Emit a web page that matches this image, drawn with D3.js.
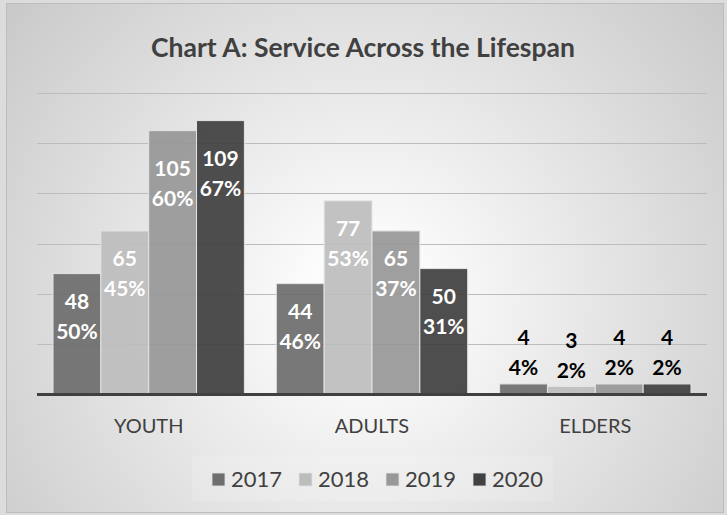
<!DOCTYPE html>
<html>
<head>
<meta charset="utf-8">
<script src="https://cdn.jsdelivr.net/npm/d3@7"></script>
<style>
  html, body { margin: 0; padding: 0; background: #dcdcdc; }
  svg { display: block; }
  text { font-family: Lato, "Open Sans", sans-serif; }
</style>
</head>
<body>
<div id="chart"></div>
<script>
// chart data
const categories = ['YOUTH', 'ADULTS', 'ELDERS'];
const years = ['2017', '2018', '2019', '2020'];
const counts = {
  '2017': [48, 44, 4],
  '2018': [65, 77, 3],
  '2019': [105, 65, 4],
  '2020': [109, 50, 4]
};
const percents = {
  '2017': ['50%', '46%', '4%'],
  '2018': ['45%', '53%', '2%'],
  '2019': ['60%', '37%', '2%'],
  '2020': ['67%', '31%', '2%']
};
const yTicks = [0, 20, 40, 60, 80, 100, 120];

const colors = { '2017': '#6e6e6e', '2018': '#bdbdbd', '2019': '#989898', '2020': '#414141' };

const width = 727, height = 515;
const svg = d3.select('#chart').append('svg')
  .attr('width', width)
  .attr('height', height);

// radial grey background
const defs = svg.append('defs');
const grad = defs.append('radialGradient')
  .attr('id', 'bg')
  .attr('gradientUnits', 'userSpaceOnUse')
  .attr('cx', 365).attr('cy', 300).attr('r', 520);
grad.append('stop').attr('offset', '0').attr('stop-color', '#ffffff');
grad.append('stop').attr('offset', '0.12').attr('stop-color', '#fbfbfb');
grad.append('stop').attr('offset', '1').attr('stop-color', '#c2c2c2');

svg.append('rect')
  .attr('x', 6.5).attr('y', 3.5)
  .attr('width', width - 10).attr('height', height - 6)
  .attr('fill', 'url(#bg)')
  .attr('stroke', '#bdbdbd');

// title
svg.append('text')
  .attr('x', 363).attr('y', 57)
  .attr('text-anchor', 'middle')
  .attr('font-size', 26.5)
  .attr('font-weight', 'bold')
  .attr('fill', '#404040')
  .text('Chart A: Service Across the Lifespan');

const plot = { left: 37, right: 707, top: 93, bottom: 394 };

const x0 = d3.scaleBand()
  .domain(categories)
  .range([plot.left, plot.right])
  .paddingInner(0.143)
  .paddingOuter(0.0717);

const x1 = d3.scaleBand()
  .domain(years)
  .range([0, x0.bandwidth()]);

const y = d3.scaleLinear()
  .domain([0, 120])
  .range([plot.bottom, plot.top]);

// gridlines
svg.append('g')
  .selectAll('line')
  .data(yTicks.filter(d => d > 0))
  .join('line')
  .attr('x1', plot.left).attr('x2', plot.right)
  .attr('y1', d => Math.round(y(d)) + 0.5)
  .attr('y2', d => Math.round(y(d)) + 0.5)
  .attr('stroke', '#bcbcbc')
  .attr('stroke-width', 1);

// bars
const rows = [];
categories.forEach((c, i) => {
  years.forEach(yr => {
    rows.push({ cat: c, year: yr, value: counts[yr][i], pct: percents[yr][i] });
  });
});

const bars = svg.append('g');
bars.selectAll('rect')
  .data(rows)
  .join('rect')
  .attr('x', d => x0(d.cat) + x1(d.year))
  .attr('y', d => y(d.value))
  .attr('width', x1.bandwidth())
  .attr('height', d => y(0) - y(d.value))
  .attr('fill', d => colors[d.year])
  .attr('fill-opacity', 0.93)
  .attr('stroke', '#e4e4e4')
  .attr('stroke-width', 1);

// baseline
svg.append('line')
  .attr('x1', plot.left).attr('x2', plot.right)
  .attr('y1', y(0) + 0.5).attr('y2', y(0) + 0.5)
  .attr('stroke', '#404040')
  .attr('stroke-width', 3);

// value labels
const labels = svg.append('g')
  .attr('font-size', 21)
  .attr('font-weight', 'bold')
  .attr('text-anchor', 'middle');

rows.forEach(d => {
  const cx = x0(d.cat) + x1(d.year) + x1.bandwidth() / 2;
  const top = y(d.value);
  const inside = d.value > 20;
  // the two tallest bars keep their labels a bit lower, as in the original
  const shift = d.value > 100 ? 10 : 0;
  const l1 = inside ? top + 28 + shift : top - 46;
  const l2 = inside ? top + 58 + shift : top - 16;
  const fill = inside ? '#ffffff' : '#000000';
  labels.append('text')
    .attr('x', cx).attr('y', l1).attr('dy', '0.35em')
    .attr('fill', fill).text(d.value);
  labels.append('text')
    .attr('x', cx).attr('y', l2).attr('dy', '0.35em')
    .attr('fill', fill).text(d.pct);
});

// category axis labels
svg.append('g')
  .selectAll('text')
  .data(categories)
  .join('text')
  .attr('x', d => x0(d) + x0.bandwidth() / 2)
  .attr('y', 433)
  .attr('text-anchor', 'middle')
  .attr('font-size', 20)
  .attr('fill', '#404040')
  .text(d => d);

// legend
const legend = svg.append('g');
legend.append('rect')
  .attr('x', 192).attr('y', 456)
  .attr('width', 361).attr('height', 45)
  .attr('fill', '#ffffff').attr('fill-opacity', 0.14);

const item = legend.selectAll('g.item')
  .data(years)
  .join('g')
  .attr('class', 'item')
  .attr('transform', (d, i) => 'translate(' + (212 + i * 87) + ',473)');

item.append('rect')
  .attr('width', 13).attr('height', 13)
  .attr('fill', d => colors[d])
  .attr('stroke', '#e4e4e4')
  .attr('stroke-width', 0.8);

item.append('text')
  .attr('x', 19).attr('y', 6.5).attr('dy', '0.36em')
  .attr('font-size', 22)
  .attr('fill', '#404040')
  .text(d => d);
</script>
</body>
</html>
